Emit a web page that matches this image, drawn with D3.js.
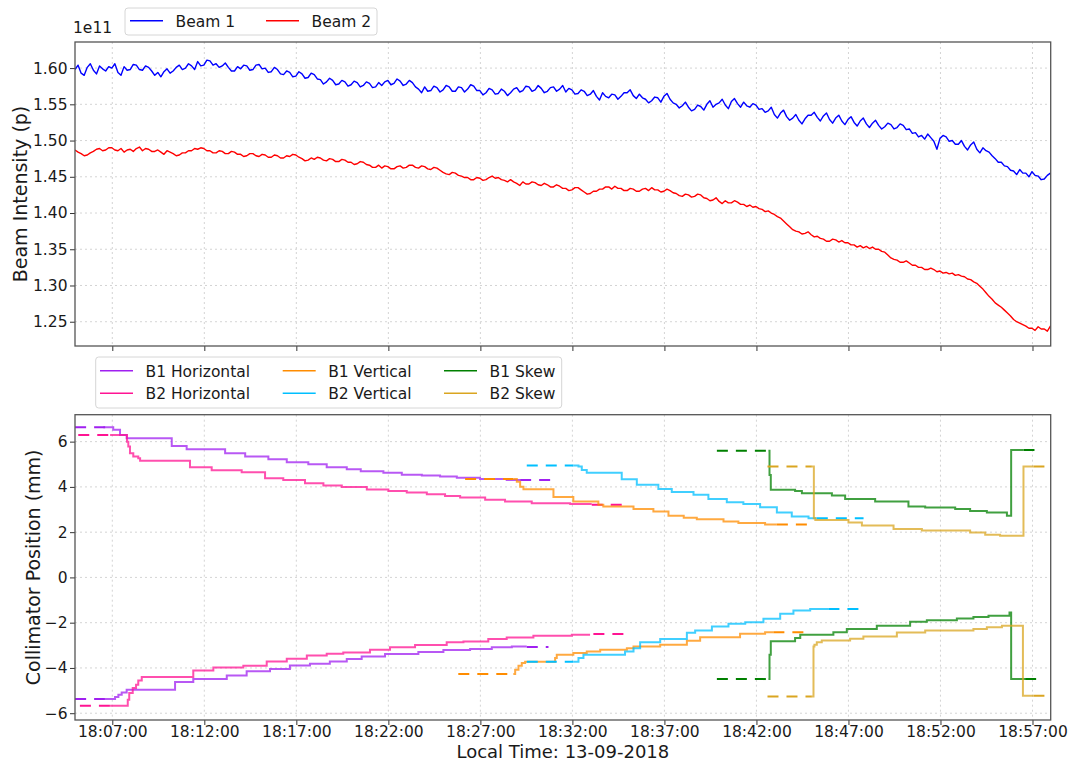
<!DOCTYPE html>
<html>
<head>
<meta charset="utf-8">
<script src="https://cdn.jsdelivr.net/npm/d3@7"></script>
<style>
  body { margin: 0; background: #fff; }
  svg { font-family: 'DejaVu Sans', sans-serif; }
</style>
</head>
<body>
<svg id="chart" width="1069" height="762"></svg>
<script>
// beam intensity, units of 1e11 p, one sample every 10 s from 18:04:58
var beamStart = 4.973 // minutes after 18:00
var beamStep = 1 / 6
var beamNames = ['Beam 1', 'Beam 2']
var beam1 = [
  1.598, 1.604, 1.593, 1.590, 1.601, 1.606, 1.597, 1.592, 1.603, 1.599, 1.596, 1.602, 1.600, 1.606, 1.594, 1.590, 1.602, 1.597, 1.598, 1.605,
  1.604, 1.598, 1.597, 1.603, 1.601, 1.596, 1.590, 1.594, 1.588, 1.595, 1.599, 1.593, 1.596, 1.601, 1.604, 1.598, 1.600, 1.606, 1.603, 1.598,
  1.609, 1.603, 1.604, 1.611, 1.610, 1.604, 1.606, 1.601, 1.603, 1.607, 1.601, 1.596, 1.596, 1.602, 1.599, 1.604, 1.603, 1.597, 1.598, 1.604,
  1.605, 1.599, 1.600, 1.594, 1.595, 1.601, 1.598, 1.592, 1.591, 1.596, 1.594, 1.588, 1.589, 1.595, 1.592, 1.586, 1.587, 1.593, 1.591, 1.585,
  1.584, 1.578, 1.581, 1.586, 1.583, 1.577, 1.578, 1.583, 1.581, 1.575, 1.577, 1.582, 1.580, 1.574, 1.576, 1.581, 1.579, 1.573, 1.574, 1.580,
  1.576, 1.581, 1.583, 1.577, 1.579, 1.585, 1.582, 1.576, 1.578, 1.583, 1.580, 1.574, 1.571, 1.566, 1.574, 1.568, 1.569, 1.575, 1.573, 1.567,
  1.570, 1.576, 1.574, 1.568, 1.568, 1.574, 1.573, 1.567, 1.571, 1.577, 1.575, 1.569, 1.569, 1.563, 1.566, 1.572, 1.570, 1.564, 1.565, 1.571,
  1.568, 1.562, 1.566, 1.571, 1.573, 1.567, 1.569, 1.575, 1.574, 1.568, 1.570, 1.576, 1.572, 1.566, 1.568, 1.573, 1.574, 1.568, 1.571, 1.576,
  1.567, 1.572, 1.570, 1.564, 1.565, 1.570, 1.568, 1.562, 1.564, 1.569, 1.561, 1.556, 1.566, 1.561, 1.559, 1.564, 1.563, 1.557, 1.561, 1.566,
  1.566, 1.570, 1.562, 1.558, 1.564, 1.559, 1.557, 1.552, 1.555, 1.560, 1.559, 1.553, 1.561, 1.565, 1.557, 1.552, 1.550, 1.545, 1.548, 1.553,
  1.546, 1.541, 1.543, 1.549, 1.547, 1.542, 1.550, 1.555, 1.546, 1.550, 1.552, 1.557, 1.549, 1.544, 1.554, 1.558, 1.551, 1.546, 1.553, 1.548,
  1.546, 1.551, 1.549, 1.543, 1.544, 1.539, 1.541, 1.546, 1.536, 1.531, 1.538, 1.542, 1.533, 1.528, 1.531, 1.536, 1.528, 1.523, 1.530, 1.535,
  1.535, 1.539, 1.532, 1.527, 1.534, 1.538, 1.529, 1.524, 1.531, 1.535, 1.527, 1.522, 1.529, 1.533, 1.525, 1.520, 1.527, 1.531, 1.523, 1.518,
  1.524, 1.528, 1.521, 1.516, 1.519, 1.524, 1.522, 1.516, 1.518, 1.523, 1.521, 1.515, 1.516, 1.510, 1.511, 1.505, 1.507, 1.502, 1.509, 1.504,
  1.499, 1.488, 1.503, 1.507, 1.505, 1.499, 1.500, 1.495, 1.495, 1.500, 1.492, 1.487, 1.494, 1.498, 1.488, 1.483, 1.490, 1.486, 1.484, 1.479,
  1.475, 1.470, 1.470, 1.465, 1.464, 1.459, 1.458, 1.453, 1.460, 1.455, 1.455, 1.450, 1.457, 1.452, 1.451, 1.446, 1.447, 1.452, 1.455, 1.450
]
var beam2 = [
  1.487, 1.484, 1.482, 1.479, 1.480, 1.483, 1.485, 1.488, 1.489, 1.486, 1.487, 1.490, 1.490, 1.487, 1.486, 1.489, 1.484, 1.487, 1.488, 1.485,
  1.489, 1.491, 1.486, 1.489, 1.488, 1.485, 1.485, 1.487, 1.484, 1.481, 1.486, 1.484, 1.482, 1.479, 1.480, 1.483, 1.483, 1.486, 1.486, 1.489,
  1.488, 1.490, 1.489, 1.486, 1.486, 1.483, 1.483, 1.486, 1.485, 1.482, 1.482, 1.485, 1.484, 1.481, 1.481, 1.478, 1.479, 1.482, 1.482, 1.479,
  1.478, 1.481, 1.480, 1.477, 1.477, 1.480, 1.479, 1.476, 1.476, 1.479, 1.478, 1.481, 1.480, 1.477, 1.475, 1.472, 1.473, 1.476, 1.474, 1.477,
  1.476, 1.473, 1.472, 1.475, 1.474, 1.471, 1.471, 1.474, 1.473, 1.470, 1.470, 1.467, 1.468, 1.471, 1.470, 1.467, 1.466, 1.463, 1.463, 1.466,
  1.462, 1.465, 1.464, 1.461, 1.461, 1.464, 1.465, 1.462, 1.463, 1.466, 1.466, 1.463, 1.462, 1.465, 1.464, 1.461, 1.460, 1.463, 1.462, 1.459,
  1.456, 1.454, 1.453, 1.456, 1.455, 1.452, 1.451, 1.449, 1.449, 1.446, 1.446, 1.449, 1.448, 1.445, 1.446, 1.449, 1.451, 1.448, 1.449, 1.446,
  1.445, 1.443, 1.446, 1.443, 1.441, 1.438, 1.443, 1.440, 1.440, 1.443, 1.442, 1.439, 1.438, 1.441, 1.439, 1.436, 1.436, 1.439, 1.437, 1.434,
  1.434, 1.431, 1.432, 1.435, 1.435, 1.432, 1.429, 1.426, 1.427, 1.430, 1.430, 1.433, 1.433, 1.436, 1.436, 1.433, 1.437, 1.434, 1.434, 1.431,
  1.431, 1.434, 1.433, 1.430, 1.430, 1.433, 1.434, 1.431, 1.435, 1.432, 1.432, 1.429, 1.430, 1.433, 1.431, 1.428, 1.427, 1.424, 1.423, 1.426,
  1.425, 1.422, 1.423, 1.426, 1.425, 1.421, 1.420, 1.417, 1.418, 1.421, 1.416, 1.413, 1.417, 1.414, 1.414, 1.417, 1.415, 1.412, 1.412, 1.409,
  1.411, 1.408, 1.409, 1.406, 1.405, 1.402, 1.403, 1.400, 1.398, 1.395, 1.393, 1.389, 1.385, 1.381, 1.377, 1.375, 1.374, 1.371, 1.372, 1.374,
  1.370, 1.367, 1.368, 1.365, 1.364, 1.361, 1.361, 1.364, 1.363, 1.360, 1.362, 1.359, 1.359, 1.356, 1.356, 1.353, 1.355, 1.352, 1.354, 1.351,
  1.353, 1.350, 1.350, 1.347, 1.346, 1.342, 1.338, 1.336, 1.335, 1.332, 1.332, 1.334, 1.331, 1.328, 1.328, 1.325, 1.325, 1.322, 1.322, 1.324,
  1.322, 1.319, 1.320, 1.317, 1.318, 1.316, 1.317, 1.314, 1.315, 1.313, 1.312, 1.309, 1.308, 1.305, 1.303, 1.299, 1.295, 1.290, 1.285, 1.281,
  1.276, 1.273, 1.270, 1.266, 1.262, 1.258, 1.253, 1.250, 1.248, 1.246, 1.244, 1.241, 1.241, 1.238, 1.243, 1.240, 1.240, 1.237, 1.244, 1.241
]

var intensityTicks = [1.25, 1.30, 1.35, 1.40, 1.45, 1.50, 1.55, 1.60]
var positionTicks = [-6, -4, -2, 0, 2, 4, 6]
var timeTicks = [7, 12, 17, 22, 27, 32, 37, 42, 47, 52, 57] // minutes after 18:00

// collimator jaw positions in mm, [minute after 18:00, mm], step after
var collNames = ['B1 Horizontal', 'B2 Horizontal', 'B1 Vertical', 'B2 Vertical', 'B1 Skew', 'B2 Skew']
var collColors = ['#a020f0', '#ff1493', '#ff8c00', '#00bfff', '#008000', '#daa520']

var b1hUpper = [[6.51, 6.63], [7.05, 6.52], [7.42, 6.29], [7.78, 6.15], [10.23, 5.81], [11.04, 5.66],
  [13.13, 5.49], [14.22, 5.34], [15.48, 5.22], [16.48, 5.09], [17.65, 5.00], [18.65, 4.87], [19.74, 4.78],
  [20.5, 4.69], [21.73, 4.62], [22.73, 4.54], [23.82, 4.50], [24.81, 4.46], [25.72, 4.40], [26.98, 4.35],
  [28.43, 4.30], [29.16, 4.30]]
var b1hLower = [[6.60, -5.37], [7.05, -5.37], [7.15, -5.28], [7.33, -5.18], [7.51, -5.08], [7.78, -4.96],
  [10.41, -4.62], [11.40, -4.49], [13.22, -4.33], [14.30, -4.15], [15.57, -4.05], [16.65, -3.89],
  [17.74, -3.81], [18.82, -3.71], [19.74, -3.60], [20.55, -3.49], [21.82, -3.38], [23.63, -3.30],
  [24.99, -3.21], [26.44, -3.16], [27.62, -3.09], [28.71, -3.05], [29.52, -3.05]]
var b1hDashed = [[4.98, 7.05, 6.63], [4.98, 6.60, -5.37], [29.16, 30.79, 4.30], [29.52, 30.70, -3.07]]

var b2hUpper = [[6.88, 6.29], [7.80, 6.00], [7.87, 5.78], [7.96, 5.49], [8.14, 5.34], [8.41, 5.27],
  [8.51, 5.16], [11.22, 4.87], [12.40, 4.74], [14.03, 4.65], [15.30, 4.38], [16.29, 4.31], [17.47, 4.16],
  [18.47, 4.06], [19.47, 4.00], [20.83, 3.88], [22.0, 3.82], [23.0, 3.75], [24.09, 3.68], [25.08, 3.60],
  [25.90, 3.53], [27.26, 3.43], [28.34, 3.35], [29.79, 3.28], [31.88, 3.24], [33.05, 3.24]]
var b2hLower = [[6.88, -5.67], [7.84, -5.40], [7.92, -5.11], [8.11, -4.89], [8.29, -4.74], [8.41, -4.55],
  [8.60, -4.40], [11.40, -4.11], [12.49, -3.98], [14.12, -3.90], [15.39, -3.71], [16.48, -3.59],
  [17.57, -3.45], [18.65, -3.37], [19.55, -3.32], [21.0, -3.20], [22.09, -3.09], [23.45, -2.99],
  [25.17, -2.87], [26.08, -2.83], [27.43, -2.72], [28.43, -2.65], [29.88, -2.58], [31.97, -2.53],
  [32.96, -2.53]]
var b2hDashed = [[5.15, 6.88, 6.29], [5.24, 6.88, -5.67], [33.05, 34.77, 3.21], [33.14, 34.86, -2.50]]

var b1vUpper = [[28.79, 4.35], [28.98, 4.23], [29.16, 4.01], [29.34, 3.90], [30.97, 3.55], [32.05, 3.35],
  [33.41, 3.21], [33.68, 3.13], [35.32, 3.02], [36.40, 2.91], [37.22, 2.72], [38.05, 2.64], [38.76, 2.57],
  [40.21, 2.47], [41.02, 2.40], [42.47, 2.34], [43.11, 2.34]]
var b1vLower = [[28.79, -4.27], [28.89, -4.08], [29.07, -3.90], [29.25, -3.78], [29.43, -3.73],
  [31.06, -3.56], [31.15, -3.42], [32.05, -3.34], [32.78, -3.27], [33.51, -3.20], [34.96, -3.13],
  [35.32, -3.05], [36.77, -2.98], [38.22, -2.80], [38.94, -2.64], [41.11, -2.49], [42.47, -2.42],
  [42.92, -2.42]]
var b1vDashed = [[26.17, 28.79, 4.35], [25.80, 28.79, -4.27], [43.11, 45.01, 2.34], [42.92, 44.65, -2.42]]

var b2vUpper = [[32.05, 4.94], [32.33, 4.90], [32.51, 4.75], [32.78, 4.63], [34.68, 4.34], [35.50, 4.09],
  [36.67, 3.91], [37.40, 3.77], [38.58, 3.65], [39.39, 3.46], [40.39, 3.32], [41.29, 3.24], [42.20, 3.10],
  [43.11, 2.87], [43.92, 2.69], [44.83, 2.62], [45.28, 2.62]]
var b2vLower = [[32.05, -3.73], [32.33, -3.56], [32.60, -3.42], [34.86, -3.27], [35.32, -3.13],
  [35.68, -2.87], [36.77, -2.72], [38.22, -2.45], [38.67, -2.35], [39.58, -2.17], [40.48, -2.05],
  [41.39, -1.98], [42.38, -1.83], [43.29, -1.61], [44.01, -1.46], [44.92, -1.39], [45.91, -1.39]]
var b2vDashed = [[29.52, 32.05, 4.94], [29.52, 32.05, -3.73], [45.28, 47.82, 2.62], [45.91, 47.91, -1.39]]

var b1sUpper = [[42.65, 5.60], [42.71, 4.53], [42.78, 3.87], [44.10, 3.82], [44.47, 3.72], [46.10, 3.62],
  [46.82, 3.47], [48.45, 3.35], [50.26, 3.13], [51.17, 3.09], [52.80, 3.02], [53.61, 2.94], [54.52, 2.87],
  [55.61, 2.72], [55.84, 5.63], [56.51, 5.63]]
var b1sLower = [[42.65, -4.49], [42.71, -3.42], [42.78, -2.82], [44.10, -2.68], [44.38, -2.53],
  [46.18, -2.42], [46.91, -2.28], [48.54, -2.13], [50.35, -1.96], [51.26, -1.89], [52.89, -1.82],
  [53.79, -1.75], [54.61, -1.69], [55.75, -1.55], [55.84, -4.49], [56.60, -4.49]]
var b1sDashed = [[39.85, 42.65, 5.60], [39.85, 42.65, -4.49], [56.51, 57.42, 5.63], [56.60, 57.33, -4.49]]

var b2sUpper = [[45.01, 4.90], [45.12, 2.62], [45.20, 2.54], [47.0, 2.43], [47.73, 2.29], [49.45, 2.14],
  [50.99, 2.07], [53.61, 1.98], [54.43, 1.88], [55.24, 1.84], [56.51, 4.90], [57.05, 4.90]]
var b2sLower = [[45.01, -5.26], [45.10, -3.05], [45.15, -2.98], [45.28, -2.86], [45.55, -2.79],
  [47.09, -2.71], [47.81, -2.61], [49.63, -2.43], [51.17, -2.35], [53.79, -2.28], [54.52, -2.20],
  [55.34, -2.13], [56.48, -5.23], [57.05, -5.23]]
var b2sDashed = [[42.60, 45.01, 4.90], [42.60, 45.01, -5.26], [57.05, 57.78, 4.90], [57.05, 57.78, -5.23]]

var collimators = [
  { name: collNames[0], color: collColors[0], upper: b1hUpper, lower: b1hLower, dashed: b1hDashed },
  { name: collNames[1], color: collColors[1], upper: b2hUpper, lower: b2hLower, dashed: b2hDashed },
  { name: collNames[2], color: collColors[2], upper: b1vUpper, lower: b1vLower, dashed: b1vDashed },
  { name: collNames[3], color: collColors[3], upper: b2vUpper, lower: b2vLower, dashed: b2vDashed },
  { name: collNames[4], color: collColors[4], upper: b1sUpper, lower: b1sLower, dashed: b1sDashed },
  { name: collNames[5], color: collColors[5], upper: b2sUpper, lower: b2sLower, dashed: b2sDashed }
]

var svg = d3.select('#chart')
var left = 75
var right = 1050.7
var topPanel = { top: 42, bottom: 346 }
var botPanel = { top: 414.7, bottom: 720 }
var fontSize = 15.5

var day = new Date(2018, 8, 13, 18, 0, 0)
function toDate(m) {
  return new Date(day.getTime() + m * 60000)
}

var xPositionScale = d3.scaleTime()
  .domain([toDate(4.973), toDate(57.989)])
  .range([left, right])
var yIntensityScale = d3.scaleLinear()
  .domain([1.2165, 1.636])
  .range([topPanel.bottom, topPanel.top])
var yPositionScale = d3.scaleLinear()
  .domain([-6.3, 7.19])
  .range([botPanel.bottom, botPanel.top])

// clip paths for each panel
var defs = svg.append('defs')
defs.append('clipPath').attr('id', 'clip-top')
  .append('rect')
  .attr('x', left).attr('y', topPanel.top)
  .attr('width', right - left).attr('height', topPanel.bottom - topPanel.top)
defs.append('clipPath').attr('id', 'clip-bot')
  .append('rect')
  .attr('x', left).attr('y', botPanel.top)
  .attr('width', right - left).attr('height', botPanel.bottom - botPanel.top)

function drawGrid(panel, yScale, yTicks) {
  var g = svg.append('g').attr('class', 'grid')
  g.selectAll('.vgrid')
    .data(timeTicks)
    .enter()
    .append('line')
    .attr('x1', d => xPositionScale(toDate(d)))
    .attr('x2', d => xPositionScale(toDate(d)))
    .attr('y1', panel.top)
    .attr('y2', panel.bottom)
  g.selectAll('.hgrid')
    .data(yTicks)
    .enter()
    .append('line')
    .attr('x1', left)
    .attr('x2', right)
    .attr('y1', d => yScale(d))
    .attr('y2', d => yScale(d))
  g.selectAll('line')
    .attr('stroke', '#cfcfcf')
    .attr('stroke-width', 0.9)
    .attr('stroke-dasharray', '2,3')
}

function styleAxis(g) {
  g.select('.domain').remove()
  g.selectAll('.tick line').attr('stroke', '#333').attr('stroke-width', 1)
  g.selectAll('.tick text')
    .attr('fill', '#1a1a1a')
    .attr('font-size', fontSize)
    .attr('font-family', "'DejaVu Sans', sans-serif")
}

function drawFrame(panel) {
  svg.append('rect')
    .attr('x', left)
    .attr('y', panel.top)
    .attr('width', right - left)
    .attr('height', panel.bottom - panel.top)
    .attr('fill', 'none')
    .attr('stroke', '#555')
    .attr('stroke-width', 1.3)
}

// ---------- top panel: beam intensity ----------
drawGrid(topPanel, yIntensityScale, intensityTicks)

var beamLine = d3.line()
  .x((d, i) => xPositionScale(toDate(beamStart + i * beamStep)))
  .y(d => yIntensityScale(d))

var beamColors = ['#0000ff', '#ff0000']
var topLines = svg.append('g').attr('clip-path', 'url(#clip-top)')
;[beam1, beam2].forEach(function(series, k) {
  topLines.append('path')
    .datum(series)
    .attr('d', beamLine)
    .attr('fill', 'none')
    .attr('stroke', beamColors[k])
    .attr('stroke-width', 1.4)
    .attr('stroke-linejoin', 'round')
})

svg.append('g')
  .attr('transform', `translate(${left},0)`)
  .call(d3.axisLeft(yIntensityScale).tickValues(intensityTicks).tickFormat(d3.format('.2f')).tickSize(5).tickPadding(2.5))
  .call(styleAxis)

svg.append('g')
  .attr('transform', `translate(0,${topPanel.bottom})`)
  .call(d3.axisBottom(xPositionScale).tickValues(timeTicks.map(toDate)).tickFormat('').tickSize(5))
  .call(styleAxis)

drawFrame(topPanel)

svg.append('text')
  .text('1e11')
  .attr('x', 73)
  .attr('y', 33)
  .attr('font-size', fontSize)
  .attr('fill', '#1a1a1a')

svg.append('text')
  .text('Beam Intensity (p)')
  .attr('transform', `translate(27,${(topPanel.top + topPanel.bottom) / 2}) rotate(-90)`)
  .attr('text-anchor', 'middle')
  .attr('font-size', 19)
  .attr('fill', '#1a1a1a')

// ---------- bottom panel: collimator positions ----------
drawGrid(botPanel, yPositionScale, positionTicks)

var stepLine = d3.line()
  .curve(d3.curveStepAfter)
  .x(d => xPositionScale(toDate(d[0])))
  .y(d => yPositionScale(d[1]))

var botLines = svg.append('g').attr('clip-path', 'url(#clip-bot)')
collimators.forEach(function(c) {
  ;[c.upper, c.lower].forEach(function(series) {
    botLines.append('path')
      .datum(series)
      .attr('d', stepLine)
      .attr('fill', 'none')
      .attr('stroke', c.color)
      .attr('stroke-width', 2)
      .attr('stroke-opacity', 0.75)
  })
  botLines.selectAll(null)
    .data(c.dashed)
    .enter()
    .append('line')
    .attr('x1', d => xPositionScale(toDate(d[0])))
    .attr('x2', d => xPositionScale(toDate(d[1])))
    .attr('y1', d => yPositionScale(d[2]))
    .attr('y2', d => yPositionScale(d[2]))
    .attr('stroke', c.color)
    .attr('stroke-width', 2)
    .attr('stroke-dasharray', '11,8')
})

svg.append('g')
  .attr('transform', `translate(${left},0)`)
  .call(d3.axisLeft(yPositionScale).tickValues(positionTicks).tickFormat(d3.format('d')).tickSize(5).tickPadding(2.5))
  .call(styleAxis)

svg.append('g')
  .attr('transform', `translate(0,${botPanel.bottom})`)
  .call(d3.axisBottom(xPositionScale).tickValues(timeTicks.map(toDate)).tickFormat(d3.timeFormat('%H:%M:%S')).tickSize(5).tickPadding(1))
  .call(styleAxis)

drawFrame(botPanel)

svg.append('text')
  .text('Collimator Position (mm)')
  .attr('transform', `translate(39.5,${(botPanel.top + botPanel.bottom) / 2}) rotate(-90)`)
  .attr('text-anchor', 'middle')
  .attr('font-size', 19)
  .attr('fill', '#1a1a1a')

svg.append('text')
  .text('Local Time: 13-09-2018')
  .attr('x', (left + right) / 2)
  .attr('y', 757.7)
  .attr('text-anchor', 'middle')
  .attr('font-size', 18)
  .attr('fill', '#1a1a1a')

// ---------- legends ----------
function legendBox(x, y, w, h) {
  svg.append('rect')
    .attr('x', x).attr('y', y)
    .attr('width', w).attr('height', h)
    .attr('rx', 3)
    .attr('fill', '#fff')
    .attr('fill-opacity', 0.85)
    .attr('stroke', '#d6d6d6')
    .attr('stroke-width', 1)
}

function legendEntry(x, y, label, color) {
  svg.append('line')
    .attr('x1', x).attr('x2', x + 33)
    .attr('y1', y).attr('y2', y)
    .attr('stroke', color)
    .attr('stroke-width', 1.6)
  svg.append('text')
    .text(label)
    .attr('x', x + 45.5)
    .attr('y', y + 5.8)
    .attr('font-size', fontSize)
    .attr('fill', '#1a1a1a')
}

legendBox(125, 8, 252, 27)
legendEntry(130, 20.7, beamNames[0], beamColors[0])
legendEntry(266, 20.7, beamNames[1], beamColors[1])

legendBox(95.7, 357, 466, 51)
var legendCols = [100, 282.7, 444]
var legendRows = [370.7, 393.3]
collimators.forEach(function(c, i) {
  legendEntry(legendCols[Math.floor(i / 2)], legendRows[i % 2], c.name, c.color)
})
</script>
</body>
</html>
